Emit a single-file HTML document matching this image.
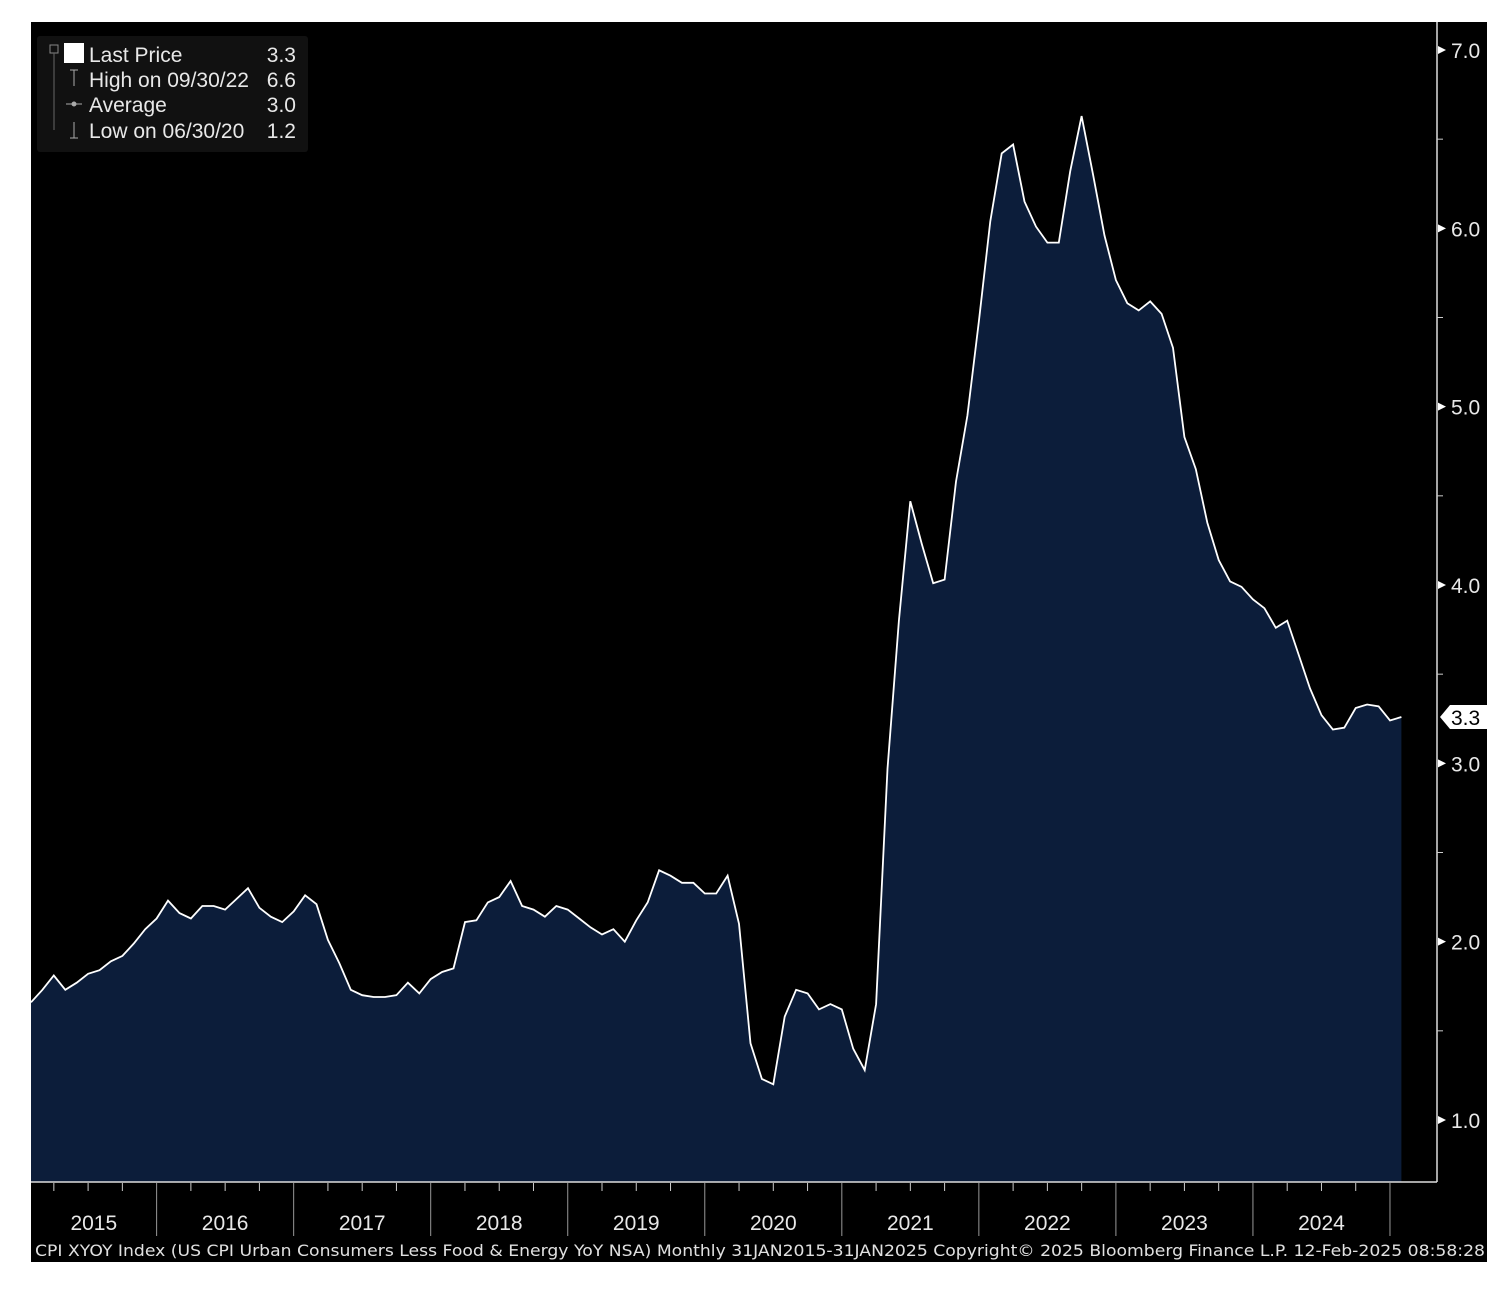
<!DOCTYPE html>
<html><head><meta charset="utf-8"><style>
html,body{margin:0;padding:0;background:#fff;}
svg{display:block;}
text{font-family:"Liberation Sans",sans-serif;}
</style></head><body>
<svg width="1504" height="1296">
<rect x="31" y="22" width="1456" height="1240" fill="#000"/>
<g id="plot"></g>
<line x1="1437" y1="22" x2="1437" y2="1182" stroke="#ddd" stroke-width="1.5"/>
<line x1="31" y1="1182" x2="1437" y2="1182" stroke="#ddd" stroke-width="1.5"/>
<g id="yaxis"></g><g id="xaxis"></g>
<g>
<rect x="37" y="36" width="271" height="116" fill="#111" rx="3"/>
<rect x="50" y="45" width="8" height="8" fill="none" stroke="#888" stroke-width="1"/>
<line x1="54" y1="53" x2="54" y2="130" stroke="#666"/>
<rect x="64" y="43" width="20" height="20" fill="#fff"/>
<g fill="#e8e8e8" font-size="21">
<text x="89" y="62">Last Price</text><text x="296" y="62" text-anchor="end">3.3</text>
<text x="89" y="87">High on 09/30/22</text><text x="296" y="87" text-anchor="end">6.6</text>
<text x="89" y="112">Average</text><text x="296" y="112" text-anchor="end">3.0</text>
<text x="89" y="138">Low on 06/30/20</text><text x="296" y="138" text-anchor="end">1.2</text>
</g>
<g stroke="#aaa" fill="none"><path d="M70 70h8M74 70v16"/><path d="M66 104h16"/><circle cx="74" cy="104" r="2" fill="#aaa"/><path d="M74 122v16M70 138h8"/></g>
</g>
<rect x="1437" y="1185" width="50" height="77" fill="#000"/>
<text x="35" y="1256" fill="#e0e0e0" font-size="16" textLength="1450" lengthAdjust="spacingAndGlyphs" style="font-family:'DejaVu Sans',sans-serif">CPI XYOY Index (US CPI Urban Consumers Less Food &amp; Energy YoY NSA)  Monthly 31JAN2015-31JAN2025     Copyright© 2025 Bloomberg Finance L.P.     12-Feb-2025 08:58:28</text>
</svg>
<script>
const years=['2015','2016','2017','2018','2019','2020','2021','2022','2023','2024'];
const yTicks=[1.0,2.0,3.0,4.0,5.0,6.0,7.0];
const lastPrice=3.26;
const cpiCore=[
1.66,1.73,1.81,1.73,1.77,1.82,1.84,1.89,1.92,1.99,2.07,2.13,
2.23,2.16,2.13,2.20,2.20,2.18,2.24,2.30,2.19,2.14,2.11,2.17,
2.26,2.21,2.01,1.88,1.73,1.70,1.69,1.69,1.70,1.77,1.71,1.79,
1.83,1.85,2.11,2.12,2.22,2.25,2.34,2.20,2.18,2.14,2.20,2.18,
2.13,2.08,2.04,2.07,2.00,2.12,2.22,2.40,2.37,2.33,2.33,2.27,
2.27,2.37,2.10,1.43,1.23,1.20,1.58,1.73,1.71,1.62,1.65,1.62,
1.40,1.28,1.65,2.97,3.80,4.47,4.23,4.01,4.03,4.58,4.95,5.48,
6.04,6.42,6.47,6.15,6.01,5.92,5.92,6.32,6.63,6.30,5.96,5.71,
5.58,5.54,5.59,5.52,5.33,4.83,4.65,4.35,4.14,4.02,3.99,3.92,
3.87,3.76,3.80,3.61,3.42,3.27,3.19,3.20,3.31,3.33,3.32,3.24,
3.26];
const NS='http://www.w3.org/2000/svg';
const x0=31,dx=11.42,yTop=50,yBot=1120;
const xs=i=>x0+i*dx;
const ys=v=>yBot-(v-1)*(yBot-yTop)/6;
function mk(t,a,p){const e=document.createElementNS(NS,t);for(const k in a)e.setAttribute(k,a[k]);p.appendChild(e);return e;}
const plot=document.getElementById('plot');
let d='M'+xs(0)+' 1182';
cpiCore.forEach((v,i)=>{d+=' L'+xs(i).toFixed(1)+' '+ys(v).toFixed(1);});
d+=' L'+xs(cpiCore.length-1).toFixed(1)+' 1182 Z';
const area=mk('path',{d:d,fill:'#0c1d3a'},plot);


const line=mk('polyline',{points:cpiCore.map((v,i)=>xs(i).toFixed(1)+','+ys(v).toFixed(1)).join(' '),fill:'none',stroke:'#fff','stroke-width':1.8},plot);


const ya=document.getElementById('yaxis');
yTicks.forEach(t=>{const y=ys(t);
 const p=mk('path',{d:`M1438 ${y-4} L1446 ${y} L1438 ${y+4} Z`,fill:'#fff'},ya);
 
 
 const tx=mk('text',{x:1451,y:y+8,fill:'#e8e8e8','font-size':21},ya);tx.textContent=t.toFixed(1);
 
 
 const m=ys(t+0.5);if(t<7){const mm=mk('line',{x1:1437,x2:1443,y1:m,y2:m,stroke:'#ccc'},ya);
 
 }
});
const ly=ys(lastPrice);
const tag=mk('path',{d:`M1440 ${ly} L1450 ${ly-12} L1487 ${ly-12} L1487 ${ly+12} L1450 ${ly+12} Z`,fill:'#fff'},ya);


const tt=mk('text',{x:1451,y:ly+8,fill:'#000','font-size':21},ya);tt.textContent=lastPrice.toFixed(1);


const xa=document.getElementById('xaxis');
for(let q=1;q<=40;q++){const x=xs(q*3-1);const yr=q%4===0;
 const l=mk('line',{x1:x,x2:x,y1:1183,y2:yr?1236:1191,stroke:yr?'#999':'#ccc'},xa);
 
 }
years.forEach((y,i)=>{const left=i===0?x0:xs(i*12-1);const right=xs(i*12+11);
 const t=mk('text',{x:(left+right)/2,y:1230,fill:'#e8e8e8','font-size':21,'text-anchor':'middle'},xa);t.textContent=y;
 
 });
</script>
</body></html>
